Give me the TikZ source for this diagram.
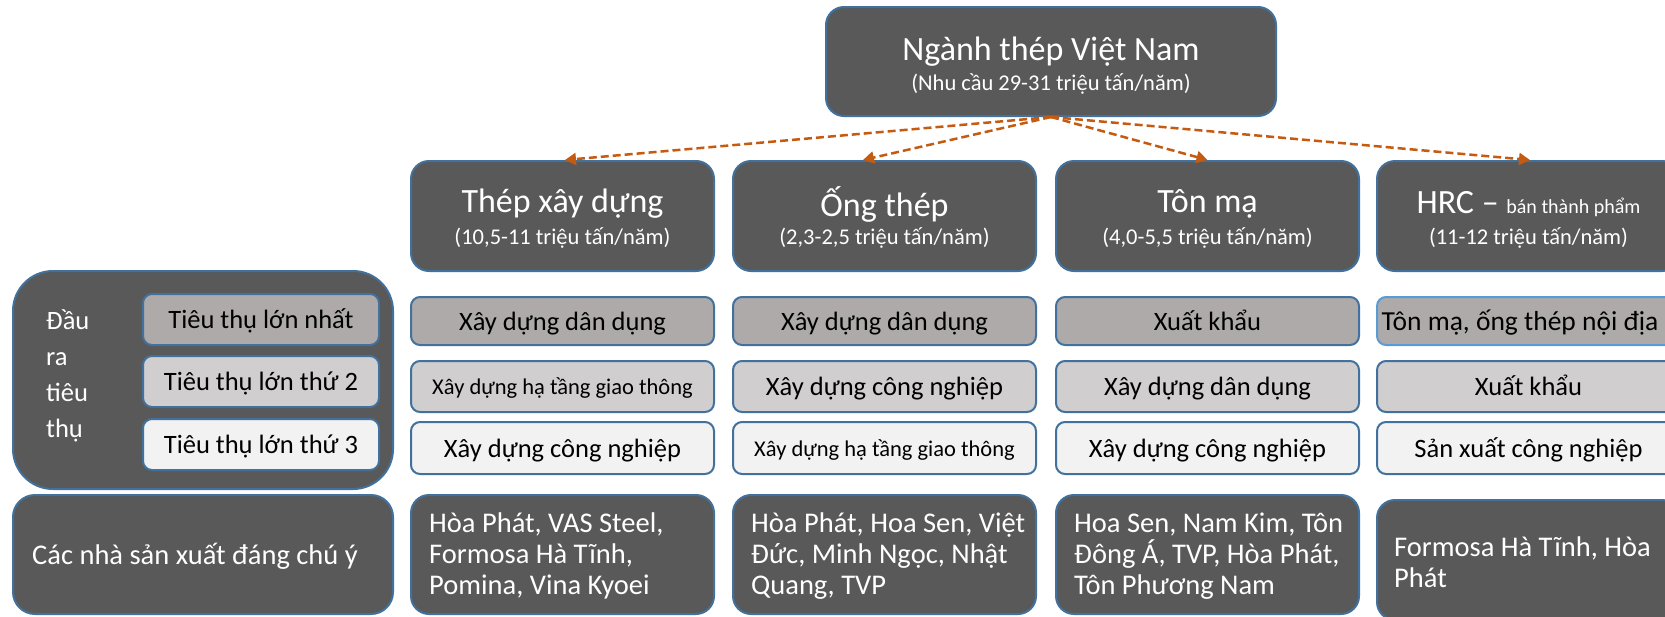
\documentclass[tikz,border=0pt]{standalone}
\usepackage{fontspec}
\setmainfont{Carlito}
\usetikzlibrary{arrows.meta,calc}
\definecolor{dk}{HTML}{595959}
\definecolor{bd}{HTML}{41719C}
\definecolor{bdl}{HTML}{5B9BD5}
\definecolor{ga}{HTML}{AEAAAA}
\definecolor{gb}{HTML}{D0CECE}
\definecolor{gc}{HTML}{F2F2F2}
\definecolor{orng}{HTML}{C55A11}
\begin{document}
\begin{tikzpicture}[x=1pt,y=-1pt,
  darkbox/.style={fill=dk,draw=bd,line width=2pt,rounded corners=18pt,inner sep=0pt},
  catbox/.style={draw=bd,line width=2pt,rounded corners=9pt,inner sep=0pt,text=black,
    font=\fontsize{26.5}{30}\selectfont,text height=24pt,text depth=6pt},
  smalltxt/.style={font=\fontsize{22.5}{26}\selectfont,text height=22pt,text depth=6pt},
  bigttl/.style={text=white,inner sep=0pt,font=\fontsize{34}{40}\selectfont},
  subttl/.style={text=white,inner sep=0pt,font=\fontsize{22.5}{26}\selectfont},
  prodtxt/.style={text=white,inner sep=0pt,align=left,anchor=west,font=\fontsize{28.5}{31}\selectfont},
  flow/.style={draw=orng,line width=2.5pt,dash pattern=on 8pt off 4pt,-{Triangle[length=11pt,width=12pt]}}
]
\useasboundingbox (0,0) rectangle (1665,616);
\clip (0,0) rectangle (1665,616);

% top
\node[darkbox,minimum width=450pt,minimum height=109pt] (top) at (1051,61.5) {};
\node[bigttl] (topT) at ($(top.center)+(0,-9.5)$) {Ngành thép Việt Nam};
\node[subttl] (topS) at ($(top.center)+(0,22)$) {(Nhu cầu 29-31 triệu tấn/năm)};

% row 2
\foreach \n/\x in {c1/562.5,c2/884.5,c3/1207.5,c4/1528.5}{
  \node[darkbox,minimum width=303pt,minimum height=110pt] (\n) at (\x,216) {};
}
\node[bigttl] (c1T) at ($(c1.center)+(0,-12)$) {Thép xây dựng};
\node[subttl] (c1S) at ($(c1.center)+(0,22)$) {(10,5-11 triệu tấn/năm)};
\node[bigttl] (c2T) at ($(c2.center)+(0,-12)$) {Ống thép};
\node[subttl] (c2S) at ($(c2.center)+(0,22)$) {(2,3-2,5 triệu tấn/năm)};
\node[bigttl] (c3T) at ($(c3.center)+(0,-12)$) {Tôn mạ};
\node[subttl] (c3S) at ($(c3.center)+(0,22)$) {(4,0-5,5 triệu tấn/năm)};
\node[bigttl] (c4T) at ($(c4.center)+(0,-12)$) {HRC – {\fontsize{20}{24}\selectfont bán thành phẩm}};
\node[subttl] (c4S) at ($(c4.center)+(0,22)$) {(11-12 triệu tấn/năm)};

% arrows
\draw[flow] (top.south) -- ($(c1.north)+(2.5,0)$);
\draw[flow] (top.south) -- ($(c2.north)+(-21.5,0)$);
\draw[flow] (top.south) -- ($(c3.north)+(0,0)$);
\draw[flow] (top.south) -- ($(c4.north)+(1.5,0)$);

% legend box
\node[darkbox,rounded corners=40pt,minimum width=380pt,minimum height=218pt] (leg) at (203,380) {};
\node[text=white,inner sep=0pt,align=left,anchor=west,font=\fontsize{26.5}{36}\selectfont] (legT) at (46,375.5) {Đầu\\ra\\tiêu\\thụ};
\node[catbox,fill=ga,minimum width=236pt,minimum height=51pt] (l1) at (261,319.5) {Tiêu thụ lớn nhất};
\node[catbox,fill=gb,minimum width=236pt,minimum height=51pt] (l2) at (261,381.5) {Tiêu thụ lớn thứ 2};
\node[catbox,fill=gc,minimum width=236pt,minimum height=51pt] (l3) at (261,444.5) {Tiêu thụ lớn thứ 3};

% categories
\node[catbox,fill=ga,minimum width=303pt,minimum height=48pt] (a1) at (562.5,321) {Xây dựng dân dụng};
\node[catbox,fill=gb,minimum width=303pt,minimum height=51pt,smalltxt] (a2) at (562.5,386.5) {Xây dựng hạ tầng giao thông};
\node[catbox,fill=gc,minimum width=303pt,minimum height=52pt] (a3) at (562.5,448) {Xây dựng công nghiệp};

\node[catbox,fill=ga,minimum width=303pt,minimum height=48pt] (b1) at (884.5,321) {Xây dựng dân dụng};
\node[catbox,fill=gb,minimum width=303pt,minimum height=51pt] (b2) at (884.5,386.5) {Xây dựng công nghiệp};
\node[catbox,fill=gc,minimum width=303pt,minimum height=52pt,smalltxt] (b3) at (884.5,448) {Xây dựng hạ tầng giao thông};

\node[catbox,fill=ga,minimum width=303pt,minimum height=48pt] (d1) at (1207.5,321) {Xuất khẩu};
\node[catbox,fill=gb,minimum width=303pt,minimum height=51pt] (d2) at (1207.5,386.5) {Xây dựng dân dụng};
\node[catbox,fill=gc,minimum width=303pt,minimum height=52pt] (d3) at (1207.5,448) {Xây dựng công nghiệp};

\node[catbox,draw=bdl,fill=ga,minimum width=303pt,minimum height=48pt] (e1) at (1528.5,321) {};
\node[inner sep=0pt,text=black,font=\fontsize{27.5}{30}\selectfont,text height=24pt,text depth=6pt] (e1T) at (1520,321) {Tôn mạ, ống thép nội địa};
\node[catbox,fill=gb,minimum width=303pt,minimum height=51pt] (e2) at (1528.5,386.5) {Xuất khẩu};
\node[catbox,fill=gc,minimum width=303pt,minimum height=52pt] (e3) at (1528.5,448) {Sản xuất công nghiệp};

% producers
\node[darkbox,rounded corners=22pt,minimum width=380pt,minimum height=119pt] (pl) at (203,554.5) {};
\node[prodtxt] (plT) at (32,556) {Các nhà sản xuất đáng chú ý};
\node[darkbox,minimum width=303pt,minimum height=119pt] (p1) at (562.5,554.5) {};
\node[prodtxt] (p1T) at ($(p1.west)+(19,1.5)$) {Hòa Phát, VAS Steel,\\Formosa Hà Tĩnh,\\Pomina, Vina Kyoei};
\node[darkbox,minimum width=303pt,minimum height=119pt] (p2) at (884.5,554.5) {};
\node[prodtxt] (p2T) at ($(p2.west)+(19,1.5)$) {Hòa Phát, Hoa Sen, Việt\\Đức, Minh Ngọc, Nhật\\Quang, TVP};
\node[darkbox,minimum width=303pt,minimum height=119pt] (p3) at (1207.5,554.5) {};
\node[prodtxt] (p3T) at ($(p3.west)+(19,1.5)$) {Hoa Sen, Nam Kim, Tôn\\Đông Á, TVP, Hòa Phát,\\Tôn Phương Nam};
\node[darkbox,minimum width=303pt,minimum height=120pt] (p4) at (1528.5,560) {};
\node[prodtxt] (p4T) at ($(p4.west)+(18,2)$) {Formosa Hà Tĩnh, Hòa\\Phát};
\end{tikzpicture}
\end{document}
